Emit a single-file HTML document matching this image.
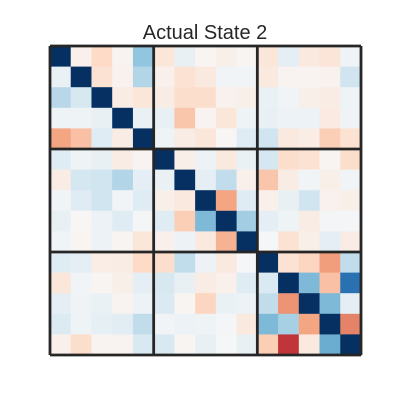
<!DOCTYPE html>
<html><head><meta charset="utf-8"><style>
body{margin:0;background:#fff;}
svg{display:block;font-family:"Liberation Sans",sans-serif;}
</style></head><body>
<svg width="400" height="400">
<text x="205" y="39" text-anchor="middle" font-size="20" fill="#262626">Actual State 2</text>
<g id="cells"></g>
<g id="lines"></g>
</svg>
<script>
const rowLabels=[0,1,2,3,4,5,6,7,8,9,10,11,12,13,14];
const blockSize=5;
const values=[
[1,-0.05,-0.2,-0.03,0.4,-0.12,0.08,-0.02,-0.06,-0.02,-0.12,0.1,-0.1,-0.13,0.05],
[0.07,1,-0.15,-0.04,0.3,-0.05,-0.15,-0.1,0.03,0.03,-0.1,-0.03,-0.03,-0.04,0.2],
[0.28,0.17,1,-0.08,-0.12,-0.08,-0.18,-0.18,-0.04,-0.06,0.07,0.03,-0.06,-0.08,0.05],
[0.05,0.05,0.08,1,0.07,0.08,-0.28,-0.03,-0.12,0.05,0.08,0.06,0.06,-0.09,0.04],
[-0.4,-0.3,0.12,-0.08,1,0.05,-0.08,-0.12,-0.01,0.12,0.2,-0.1,-0.07,-0.25,-0.15],
[0.12,0.05,0.08,-0.08,-0.03,1,-0.06,0.06,-0.1,0.07,0.18,-0.18,-0.15,-0.02,-0.18],
[-0.08,0.18,0.2,0.3,0.1,0.07,1,0.1,0.25,-0.05,-0.28,-0.08,0.03,-0.06,0.03],
[0.03,0.12,0.2,0.03,0.12,-0.06,-0.1,1,-0.4,0.12,-0.05,0.08,0.2,-0.04,-0.06],
[0.08,-0.01,0.06,0.12,0.02,0.12,-0.25,0.45,1,0.35,0.1,0.05,-0.08,0.02,0.02],
[0.03,-0.02,0.06,-0.02,-0.12,-0.05,0.06,-0.1,-0.35,1,0.01,-0.15,-0.06,0.1,-0.08],
[0.12,0.1,-0.07,-0.08,-0.2,-0.18,0.25,0.06,-0.1,0.01,1,-0.15,-0.22,-0.42,0.25],
[-0.12,0.03,-0.02,-0.06,0.1,0.17,0.08,-0.08,-0.05,0.12,0.15,1,0.45,-0.3,0.75],
[0.1,0.04,0.07,-0.03,0.06,0.15,-0.02,-0.22,0.07,0.06,0.25,-0.45,1,0.45,0.1],
[0.14,0.05,0.09,0.11,0.25,0.03,0.06,0.05,0.02,-0.1,0.45,0.33,-0.4,1,-0.5],
[-0.05,-0.18,-0.03,-0.03,0.16,0.16,-0.02,0.08,0.01,0.08,-0.25,-0.72,-0.1,0.5,1]
];
const stops=["#67001f","#b2182b","#d6604d","#f4a582","#fddbc7","#f7f7f7","#d1e5f0","#92c5de","#4393c3","#2166ac","#053061"];
function hex(h){return [1,3,5].map(i=>parseInt(h.substr(i,2),16));}
function color(v){v=Math.max(-1,Math.min(1,v));const t=(v+1)/2*(stops.length-1);const i=Math.min(Math.floor(t),stops.length-2);const f=t-i;const a=hex(stops[i]),b=hex(stops[i+1]);return "rgb("+a.map((c,k)=>Math.round(c+(b[k]-c)*f)).join(",")+")";}
const x0=50,y0=46,W=311,H=309,n=values.length;
const cw=W/n,ch=H/n;
function xs(j){return x0+j*cw;}
function ys(i){return y0+i*ch;}
const NS="http://www.w3.org/2000/svg";
const g=document.getElementById('cells');
values.forEach((row,i)=>row.forEach((v,j)=>{
const r=document.createElementNS(NS,'rect');
r.setAttribute('x',xs(j));r.setAttribute('y',ys(i));
r.setAttribute('width',cw+0.5);r.setAttribute('height',ch+0.5);
r.setAttribute('fill',color(v));


g.appendChild(r);
}));
const L=document.getElementById('lines');
for(let k=0;k<=n;k+=blockSize){
const v=document.createElementNS(NS,'line');
v.setAttribute('x1',xs(k));v.setAttribute('x2',xs(k));v.setAttribute('y1',y0);v.setAttribute('y2',y0+H);
v.setAttribute('stroke','#262626');v.setAttribute('stroke-width','2.8');


L.appendChild(v);
const h=document.createElementNS(NS,'line');
h.setAttribute('y1',ys(k));h.setAttribute('y2',ys(k));h.setAttribute('x1',x0);h.setAttribute('x2',x0+W);
h.setAttribute('stroke','#262626');h.setAttribute('stroke-width','2.8');


L.appendChild(h);
}
</script>
</body></html>
